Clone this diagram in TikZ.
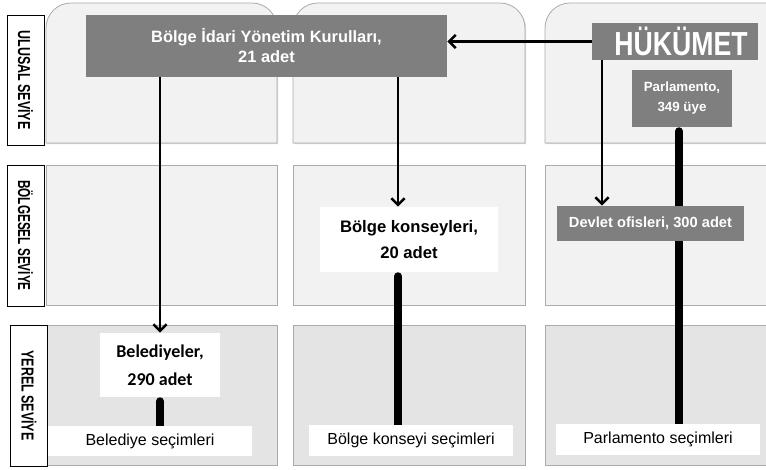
\documentclass[tikz,border=0pt]{standalone}
\usepackage{fontspec}
\setmainfont{Liberation Sans}
\newfontfamily\calibrifont{Carlito}
\usetikzlibrary{arrows.meta,positioning,shadows}
\pgfdeclarelayer{panels}
\pgfdeclarelayer{links}
\pgfsetlayers{panels,links,main}
\definecolor{boxgray}{HTML}{7F7F7F}
\definecolor{panelfill}{HTML}{F2F2F2}
\definecolor{localfill}{HTML}{E4E4E4}
\definecolor{paneledge}{HTML}{ABABAB}

\begin{document}
\begin{tikzpicture}[x=0.75pt,y=0.75pt,>={Straight Barb[length=5pt,width=10pt]},
 panel/.style={draw=paneledge,line width=0.6pt,fill=panelfill,
  drop shadow={opacity=0.3,shadow xshift=0.9pt,shadow yshift=-0.9pt}},
 level/.style={draw,fill=white,line width=0.7pt,inner sep=0pt,rotate=-90,
  minimum height=27.75pt,font=\fontsize{13}{14}\selectfont\bfseries},
 darkbox/.style={fill=boxgray,text=white,align=center,inner sep=0pt},
 whitebox/.style={fill=white,align=center,inner sep=0pt},
 arr/.style={->,line width=1.9pt},
 vote/.style={line width=6pt,line cap=round,shorten >=3pt}]
\useasboundingbox (0,0) rectangle (766,470);

\node[level,minimum width=97.5pt] (ulusal) at (25.5,390) {\scalebox{0.72}[1]{ULUSAL SEVİYE}};
\node[level,minimum width=105.75pt] (bolgesel) at (25.5,234.5) {\scalebox{0.68}[1]{BÖLGESEL SEVİYE}};
\node[level,minimum width=105.75pt] (yerel) at (29,74.5) {\scalebox{0.72}[1]{YEREL SEVİYE}};

\node[darkbox,minimum width=270.75pt,minimum height=46.5pt,
 font=\fontsize{12.3}{15}\selectfont\bfseries] (bikk) at (266.5,424)
 {Bölge İdari Yönetim Kurulları,\\21 adet};
\node[darkbox,minimum width=124.5pt,minimum height=27.75pt,
 font=\fontsize{25}{28}\selectfont\bfseries] (hukumet) at (675,428.5)
 {\hspace*{9pt}\scalebox{0.8}[1]{HÜKÜMET}};
\node[darkbox,minimum width=75pt,minimum height=42.75pt,
 font=\fontsize{10}{15}\selectfont\bfseries] (parl) at (682,371.5) {Parlamento,\\349 üye};
\node[whitebox,minimum width=133.5pt,minimum height=48.75pt,
 font=\fontsize{12.5}{19}\selectfont\bfseries] (konsey) at (409,230.5) {Bölge konseyleri,\\20 adet};
\node[darkbox,minimum width=140.25pt,minimum height=26.25pt,
 font=\fontsize{11}{13}\selectfont\bfseries] (devlet) at (650.5,246.5) {Devlet ofisleri, 300 adet};
\node[whitebox,minimum width=90pt,minimum height=48pt,
 font=\fontsize{13.5}{21}\selectfont\calibrifont\bfseries] (beled) at (160,105) {Belediyeler,\\290 adet};
\node[whitebox,minimum width=153pt,minimum height=22.5pt,
 font=\fontsize{12}{14}\selectfont] (secim1) at (150,29) {Belediye seçimleri};
\node[whitebox,minimum width=153pt,minimum height=23.25pt,
 font=\fontsize{12}{14}\selectfont] (secim2) at (411,29.5) {Bölge konseyi seçimleri};
\node[whitebox,minimum width=153pt,minimum height=23.25pt,
 font=\fontsize{12}{14}\selectfont] (secim3) at (658,30.5) {Parlamento seçimleri};

\coordinate (c2) at (398,0);
\coordinate (c3) at (602,0);
\coordinate (c4) at (679,0);

\begin{pgfonlayer}{panels}
\foreach \xa/\xb in {46/277,293/525,545/800}{
 \draw[panel] (\xa,327) -- (\xa,442) arc[start angle=180,end angle=90,radius=18.75pt]
  -- (\xb-25,467) arc[start angle=90,end angle=0,radius=18.75pt] -- (\xb,327) -- cycle;
 \draw[panel] (\xa,165) rectangle (\xb,305);
 \draw[panel,fill=localfill] (\xa,5) rectangle (\xb,145);
}
\end{pgfonlayer}

\begin{pgfonlayer}{links}
\draw[arr] (hukumet.west) -- (hukumet.west -| bikk.east);
\draw[arr] (bikk.south -| beled.north) -- (beled.north);
\draw[arr] (bikk.south -| c2) -- (konsey.north -| c2);
\draw[arr] (hukumet.south -| c3) -- (devlet.north -| c3);
\draw[vote] (secim1.north -| beled.south) -- (beled.south);
\draw[vote] (secim2.north -| c2) -- (konsey.south -| c2);
\draw[vote] (secim3.north -| c4) -- (parl.south -| c4);
\end{pgfonlayer}
\end{tikzpicture}
\end{document}
